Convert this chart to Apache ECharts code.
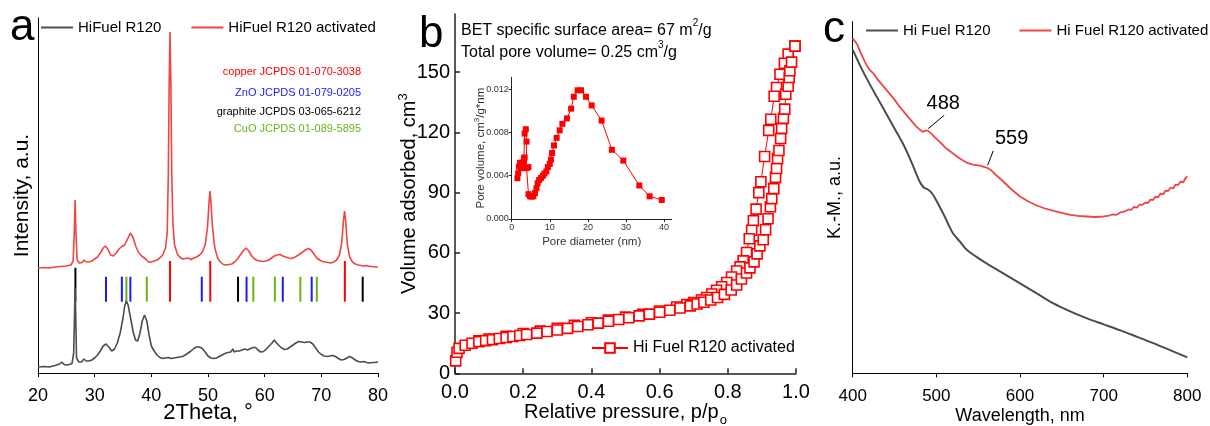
<!DOCTYPE html>
<html><head><meta charset="utf-8">
<script src="https://cdn.jsdelivr.net/npm/echarts@6/dist/echarts.min.js"></script>
<style>html,body{margin:0;padding:0;background:#fff}#c{width:1210px;height:426px}</style>
</head><body><div id="c"></div>
<script>
const FONT = 'Arial, "Liberation Sans", sans-serif';

// ---------- Panel a: XRD ----------
const xrdActivated = [[20,105],[21,105.5],[22,105],[23,106],[24,106.5],[25,107],[25.8,108],[26.2,112],[26.4,140],[26.55,173],[26.7,140],[26.9,113],[27.3,110],[27.8,110.5],[28.1,113],[28.3,115],[28.5,111],[29,111],[29.5,112],[30,114],[30.5,116],[31,120],[31.5,125],[31.9,127],[32.3,124],[32.8,118],[33.3,117],[33.8,120],[34.3,124],[34.8,126.5],[35.3,128],[35.8,134],[36.3,140],[36.8,135],[37.3,126],[37.8,120],[38.3,117],[38.6,118.5],[39,114],[39.5,111],[40,111],[40.5,112],[41,113],[41.5,115],[42,118],[42.5,125],[42.8,140],[43.0,200],[43.15,290],[43.3,341],[43.45,290],[43.6,200],[43.8,150],[44.1,128],[44.6,119],[45,116],[45.5,114],[46,114.5],[46.5,115],[47,113.5],[47.5,115],[48,116],[48.5,118],[49,121],[49.5,128],[49.9,145],[50.2,172],[50.35,182],[50.5,172],[50.8,145],[51.2,125],[51.7,115],[52.2,111],[52.7,108.5],[53.2,108],[53.7,108.5],[54.2,109],[54.7,111],[55.2,114],[55.7,118],[56.2,122],[56.7,125],[57.2,122],[57.7,117],[58.2,114],[58.7,112.5],[59.2,112],[59.7,111.5],[60.2,112],[60.7,113],[61.2,115],[61.7,117],[62.2,118],[62.7,118.5],[63.2,117],[63.7,116],[64.2,115],[64.7,114.5],[65.2,115.5],[65.7,117],[66.2,119],[66.7,121],[67.2,123],[67.7,124.5],[68.2,123],[68.7,119],[69.2,115],[69.7,113],[70.2,111.5],[70.7,111],[71.2,110.5],[71.7,110],[72.2,111],[72.7,113],[73.2,118],[73.6,130],[73.9,152],[74.1,162],[74.3,152],[74.6,128],[75,116],[75.5,111],[76,109],[76.5,108],[77,107.5],[77.5,107],[78,107.5],[78.5,106.5],[79,106.5],[79.5,106],[80,106]];
const xrdRaw = [[20,6],[21,6.5],[22,6],[23,7.5],[23.8,9],[24.2,11],[24.6,8.5],[25,8],[25.5,8.5],[26,9.5],[26.3,20],[26.45,60],[26.55,85],[26.65,60],[26.8,15],[27.2,11],[27.7,11],[28.1,14],[28.3,16],[28.5,12],[29,12],[29.5,13],[30,15],[30.5,18],[31,22],[31.5,27],[32,29],[32.5,26],[33,22],[33.5,24],[34,30],[34.5,40],[35,55],[35.3,67],[35.6,72],[35.9,68],[36.3,56],[36.8,41],[37.2,33],[37.6,32],[38,40],[38.4,52],[38.8,58],[39.2,52],[39.6,38],[40,27],[40.5,22],[41,18],[41.5,15.5],[42,14.5],[42.5,15],[43,15.5],[43.5,14.5],[44,15],[44.5,15.5],[45,16],[45.5,16.5],[46,18],[46.5,20],[47,22],[47.5,24.5],[48,26],[48.5,26],[49,24.5],[49.5,21],[50,17],[50.5,15],[51,14.5],[51.5,15],[52,16.5],[52.5,18],[53,19.5],[53.5,20.5],[54,21],[54.4,24],[54.6,21],[55,22],[55.5,22],[56,23],[56.5,24],[57,23],[57.5,24.5],[58,25.5],[58.4,25.5],[58.8,23],[59.3,21],[59.8,21.5],[60.3,24],[60.8,27],[61.3,30],[61.7,33],[62.1,30],[62.6,27],[63,25],[63.5,23.5],[64,24],[64.5,26],[65,28],[65.5,30],[66,31.5],[66.5,31],[67,30.5],[67.5,31],[68,31],[68.5,29],[69,25],[69.5,21],[70,18.5],[70.5,17],[71,16.5],[71.5,17],[72,17.5],[72.5,16.5],[73,14.5],[73.5,13],[74,13.5],[74.5,15],[75,16.5],[75.5,15],[76,13],[76.5,11.5],[77,11],[77.5,11.5],[78,10.5],[78.5,10],[79,10.5],[79.5,10.5],[80,11]];
const refCopper = [43.3, 50.4, 74.15];
const refZnO = [32.0, 34.8, 36.3, 48.9, 56.8, 63.2, 68.3];
const refGraphite = [26.6, 55.3, 77.3];
const refCuO = [35.6, 39.2, 58.0, 61.8, 66.3, 69.2];
const refLabels = ['copper JCPDS 01-070-3038','ZnO JCPDS 01-079-0205','graphite JCPDS 03-065-6212','CuO JCPDS 01-089-5895'];

// ---------- Panel b: N2 isotherm ----------
const isoAdsorption = [[0.002,6.2],[0.006,10.5],[0.012,12.4],[0.03,14],[0.05,15],[0.07,15.8],[0.09,16.3],[0.11,16.8],[0.13,17.3],[0.15,17.8],[0.17,18.3],[0.19,18.8],[0.21,19.3],[0.24,20],[0.27,20.8],[0.30,21.6],[0.33,22.4],[0.36,23.3],[0.39,24.2],[0.42,25],[0.45,25.9],[0.48,26.8],[0.51,27.7],[0.54,28.6],[0.57,29.5],[0.60,30.4],[0.63,31.4],[0.66,32.5],[0.69,33.6],[0.71,34.5],[0.73,35.4],[0.75,36.5],[0.77,37.8],[0.79,39.3],[0.81,41.5],[0.826,44],[0.84,47],[0.855,50],[0.865,52.5],[0.877,55.5],[0.886,59.5],[0.894,63.5],[0.904,66.5],[0.911,71.5],[0.918,77],[0.925,83],[0.929,87],[0.935,92],[0.94,97.6],[0.943,102],[0.946,107],[0.95,111],[0.955,117],[0.958,122],[0.963,127],[0.967,131.6],[0.97,139],[0.977,143],[0.98,147.4],[0.982,150.7],[0.987,155],[0.997,163]];
const isoDesorption = [[0.997,163],[0.977,159],[0.966,154.5],[0.953,149],[0.943,142.4],[0.936,138],[0.926,126.6],[0.92,121],[0.908,108],[0.897,95.4],[0.891,90],[0.883,81.8],[0.875,76],[0.87,71.3],[0.863,67],[0.855,60.2],[0.845,56],[0.836,53],[0.826,51],[0.811,48],[0.797,45.2],[0.782,43.1],[0.767,41.4],[0.753,39.5],[0.738,37.8],[0.723,36.5],[0.70,35.2],[0.68,34.3],[0.65,33],[0.60,31],[0.55,29.4],[0.50,28],[0.45,26.5],[0.40,25.2],[0.35,23.9],[0.30,22.4],[0.25,21],[0.20,19.8],[0.15,18.4],[0.10,17.1],[0.07,16.2]];
const poreDist = [[1.5,0.00377],[1.7,0.00423],[1.9,0.00484],[2.2,0.0052],[2.5,0.0047],[3.0,0.0052],[3.2,0.0056],[3.4,0.0057],[3.4,0.0079],[3.7,0.0083],[3.9,0.00716],[3.9,0.0047],[4.4,0.0048],[4.4,0.0023],[4.8,0.0021],[5.2,0.00207],[5.7,0.0021],[6.1,0.0024],[6.5,0.00284],[6.8,0.0033],[7.2,0.0036],[7.7,0.0038],[8.2,0.004],[8.6,0.0042],[9.1,0.0044],[9.5,0.0048],[10.0,0.0051],[10.3,0.0055],[10.6,0.0061],[11.1,0.0068],[11.8,0.0075],[12.6,0.0082],[13.3,0.0088],[14.5,0.0093],[15.6,0.0102],[16.3,0.0113],[17.3,0.0119],[18.2,0.0119],[19.5,0.0113],[21.0,0.0105],[23.6,0.0091],[26.3,0.0064],[29.3,0.0054],[33.5,0.0031],[36.2,0.0021],[39.4,0.00176]];

// ---------- Panel c: Kubelka-Munk ----------
const kmActivated = [[400,335],[405,330],[410,320],[415,311],[420,304],[425,300],[430,294],[435,289],[440,284],[445,279],[450,274],[455,268],[460,263],[465,258],[470,253],[475,248],[480,244],[484,241.5],[487,243],[490,243],[494,240],[498,236.5],[505,231],[512,225],[520,220],[528,215],[536,211],[544,209],[552,208],[560,206],[566,203],[572,198],[580,192],[590,184],[600,177],[610,172],[620,168],[630,165],[640,162.5],[650,160.5],[660,158.5],[670,157.5],[680,157],[690,156.5],[700,157],[705,157.5],[710,159],[715,158.5],[720,161],[725,162],[730,164],[733,163.5],[736,166.5],[740,166],[743,169],[746,168.5],[750,171],[753,170.5],[756,174],[759,173.5],[762,177],[765,176],[768,180],[771,179],[774,183],[777,182.5],[780,186],[783,185],[786,189],[789,188.5],[792,192],[795,191],[798,195.5],[800,197]];
const kmRaw = [[400,324],[410,306],[420,290],[430,275],[440,260],[450,245],[460,230],[470,212],[480,192],[485,186],[490,184],[495,180],[500,173],[505,165],[510,157],[515,148],[520,140],[528,132],[536,124],[548,116.5],[560,110],[570,105],[580,100],[590,95],[600,90],[620,80],[640,70],[660,62],[680,55],[700,49],[720,43],[740,36.5],[760,30],[780,23],[800,16]];
const kmBands = [488, 559];

const RED = '#ff0000', XRED = '#ef4545', GREY = '#4d4d4d';
const txt = (size, color) => ({fontFamily: FONT, fontSize: size, color: color || '#000'});

function stickSeries(name, refs, color, y0, y1) {
  return {
    name, type: 'custom', xAxisIndex: 0, yAxisIndex: 0, silent: true,
    data: refs.map(v => [v, y0]),
    renderItem: (params, api) => {
      const x = api.value(0);
      const top = (name === 'graphite' && params.dataIndex === 0) ? y1 + 9 : y1;
      const p0 = api.coord([x, y0]), p1 = api.coord([x, top]);
      return {type: 'line', shape: {x1: p0[0], y1: p0[1], x2: p1[0], y2: p1[1]}, style: {stroke: color, lineWidth: 2}};
    }
  };
}

const chart = echarts.init(document.getElementById('c'), null, {renderer: 'canvas'});
const option = {
  animation: false,
  backgroundColor: '#fff',
  textStyle: {fontFamily: FONT},
  grid: [
    {left: 38, top: 18, width: 340, height: 355, outerBoundsMode: 'none'},
    {left: 455, top: 14, width: 341, height: 359.3, outerBoundsMode: 'none'},
    {left: 511.7, top: 77.3, width: 160, height: 141.7, outerBoundsMode: 'none'},
    {left: 852.7, top: 21.7, width: 334.6, height: 351.6, outerBoundsMode: 'none'}
  ],
  xAxis: [
    {gridIndex: 0, type: 'value', min: 20, max: 80, interval: 10,
     axisLine: {lineStyle: {color: '#000', width: 1}}, axisTick: {length: 4, lineStyle: {color: '#000'}},
     axisLabel: Object.assign({margin: 14}, txt(18)), splitLine: {show: false},
     name: '2Theta, °', nameLocation: 'middle', nameGap: 29, nameMoveOverlap: false, nameTextStyle: txt(22)},
    {gridIndex: 1, type: 'value', min: 0, max: 1, interval: 0.2,
     axisLine: {lineStyle: {color: '#222', width: 1.5}}, axisTick: {inside: true, length: 5, lineStyle: {color: '#222', width: 1.5}},
     axisLabel: Object.assign({margin: 9, formatter: v => v.toFixed(1)}, txt(20)), splitLine: {show: false},
     name: '{n|Relative pressure, p/p}{s|o}', nameLocation: 'middle', nameGap: 29, nameMoveOverlap: false,
     nameTextStyle: {rich: {n: Object.assign({lineHeight: 22, verticalAlign: 'top'}, txt(20)), s: Object.assign({lineHeight: 13, verticalAlign: 'bottom', padding: [0,0,-3,1]}, txt(13))}}},
    {gridIndex: 2, type: 'value', min: 0, max: 42,
     axisLine: {lineStyle: {color: '#222', width: 1}}, axisTick: {length: 3, customValues: [0,10,20,30,40], lineStyle: {color: '#222'}},
     axisLabel: Object.assign({margin: 4, customValues: [0,10,20,30,40]}, txt(9, '#333')), splitLine: {show: false},
     name: 'Pore diameter (nm)', nameLocation: 'middle', nameGap: 16.5, nameMoveOverlap: false, nameTextStyle: txt(11.5, '#333')},
    {gridIndex: 3, type: 'value', min: 400, max: 800, interval: 100,
     axisLine: {lineStyle: {color: '#000', width: 1}}, axisTick: {length: 4, lineStyle: {color: '#000'}},
     axisLabel: Object.assign({margin: 15}, txt(17)), splitLine: {show: false},
     name: 'Wavelength, nm', nameLocation: 'middle', nameGap: 34, nameMoveOverlap: false, nameTextStyle: txt(18)}
  ],
  yAxis: [
    {gridIndex: 0, type: 'value', min: 0, max: 355,
     axisLine: {show: true, lineStyle: {color: '#000', width: 1}}, axisTick: {show: false}, axisLabel: {show: false}, splitLine: {show: false},
     name: 'Intensity, a.u.', nameLocation: 'middle', nameGap: 5, nameMoveOverlap: false, nameTextStyle: txt(21)},
    {gridIndex: 1, type: 'value', min: 0, max: 179,
     axisLine: {show: true, lineStyle: {color: '#222', width: 1.5}},
     axisTick: {show: true, inside: true, length: 5, customValues: [0,30,60,90,120,150], lineStyle: {color: '#222', width: 1.5}},
     axisLabel: Object.assign({margin: 5, customValues: [0,30,60,90,120,150]}, txt(20)), splitLine: {show: false},
     name: '{n|Volume adsorbed, cm}{s|3}', nameLocation: 'middle', nameGap: 36, nameMoveOverlap: false,
     nameTextStyle: {rich: {n: Object.assign({lineHeight: 22, verticalAlign: 'bottom'}, txt(20)), s: Object.assign({lineHeight: 13, verticalAlign: 'top'}, txt(13))}}},
    {gridIndex: 2, type: 'value', min: 0, max: 0.0131,
     axisLine: {show: true, lineStyle: {color: '#222', width: 1}},
     axisTick: {show: true, length: 3, customValues: [0,0.004,0.008,0.012], lineStyle: {color: '#222'}},
     axisLabel: Object.assign({margin: 3, customValues: [0,0.004,0.008,0.012], formatter: v => v.toFixed(3)}, txt(9, '#333')), splitLine: {show: false},
     name: '{n|Pore volume, cm}{s|3}{n|/g*nm}', nameLocation: 'middle', nameGap: 25, nameMoveOverlap: false,
     nameTextStyle: {rich: {n: Object.assign({lineHeight: 14, verticalAlign: 'bottom'}, txt(11.5, '#333')), s: Object.assign({lineHeight: 8, verticalAlign: 'top'}, txt(8, '#333'))}}},
    {gridIndex: 3, type: 'value', min: 0, max: 352,
     axisLine: {show: true, lineStyle: {color: '#000', width: 1}}, axisTick: {show: false}, axisLabel: {show: false}, splitLine: {show: false},
     name: 'K.-M., a.u.', nameLocation: 'middle', nameGap: 9, nameMoveOverlap: false, nameTextStyle: txt(18)}
  ],
  legend: [
    {data: ['HiFuel R120', 'HiFuel R120 activated'], icon: 'rect', left: 41, top: 20, width: 400, padding: 0, itemWidth: 32, itemHeight: 2, itemGap: 30, textStyle: txt(15), selectedMode: false},
    {data: ['BET adsorption'], formatter: () => 'Hi Fuel R120 activated', left: 591, top: 340, padding: 0, itemWidth: 36, itemHeight: 12, textStyle: txt(16), selectedMode: false},
    {data: ['Hi Fuel R120', 'Hi Fuel R120 activated'], icon: 'rect', left: 866, top: 23, width: 400, padding: 0, itemWidth: 32, itemHeight: 2, itemGap: 29, textStyle: txt(15), selectedMode: false}
  ],
  graphic: [
    {type: 'text', x: 10, y: 43.3 - 0.35 * 44, style: {text: 'a', font: '44px ' + FONT, fill: '#000', verticalAlign: 'middle'}},
    {type: 'text', x: 419, y: 50 - 0.35 * 44, style: {text: 'b', font: '44px ' + FONT, fill: '#000', verticalAlign: 'middle'}},
    {type: 'text', x: 823, y: 45 - 0.35 * 44, style: {text: 'c', font: '44px ' + FONT, fill: '#000', verticalAlign: 'middle'}},
    {type: 'text', x: 361, y: 72.3, style: {text: refLabels[0], font: '11px ' + FONT, fill: RED, align: 'right', verticalAlign: 'middle'}},
    {type: 'text', x: 361, y: 93.3, style: {text: refLabels[1], font: '11px ' + FONT, fill: '#1a1aff', align: 'right', verticalAlign: 'middle'}},
    {type: 'text', x: 361, y: 112.3, style: {text: refLabels[2], font: '11px ' + FONT, fill: '#000', align: 'right', verticalAlign: 'middle'}},
    {type: 'text', x: 361, y: 128.8, style: {text: refLabels[3], font: '11px ' + FONT, fill: '#6cb31a', align: 'right', verticalAlign: 'middle'}},
    {type: 'text', x: 461, y: 28.3, style: {text: '{n|BET specific surface area= 67 m}{s|2}{n|/g}', verticalAlign: 'middle',
      rich: {n: {fontFamily: FONT, fontSize: 16, lineHeight: 20, fill: '#000', verticalAlign: 'bottom'}, s: {fontFamily: FONT, fontSize: 10, lineHeight: 11, fill: '#000', verticalAlign: 'top'}}}},
    {type: 'text', x: 461, y: 50.5, style: {text: '{n|Total pore volume= 0.25 cm}{s|3}{n|/g}', verticalAlign: 'middle',
      rich: {n: {fontFamily: FONT, fontSize: 16, lineHeight: 20, fill: '#000', verticalAlign: 'bottom'}, s: {fontFamily: FONT, fontSize: 10, lineHeight: 11, fill: '#000', verticalAlign: 'top'}}}}
  ],
  series: [
    {name: 'HiFuel R120', type: 'line', xAxisIndex: 0, yAxisIndex: 0, data: xrdRaw, symbol: 'none', color: GREY, lineStyle: {color: GREY, width: 1.6}},
    {name: 'HiFuel R120 activated', type: 'line', xAxisIndex: 0, yAxisIndex: 0, data: xrdActivated, symbol: 'none', color: XRED, lineStyle: {color: XRED, width: 1.6}},
    stickSeries('graphite', refGraphite, '#000', 71.3, 96.3),
    stickSeries('ZnO', refZnO, '#1a1aff', 71.3, 96.3),
    stickSeries('CuO', refCuO, '#6cb31a', 71.3, 96.3),
    stickSeries('copper', refCopper, RED, 71.3, 112),
    {name: 'BET desorption', type: 'line', xAxisIndex: 1, yAxisIndex: 1, data: isoDesorption, symbol: 'rect', symbolSize: 10, showAllSymbol: true,
     itemStyle: {color: '#fff', borderColor: RED, borderWidth: 1.6}, lineStyle: {color: RED, width: 1}},
    {name: 'BET adsorption', type: 'line', xAxisIndex: 1, yAxisIndex: 1, data: isoAdsorption, symbol: 'rect', symbolSize: 10, showAllSymbol: true,
     itemStyle: {color: '#fff', borderColor: RED, borderWidth: 1.6}, lineStyle: {color: RED, width: 1}},
    {name: 'PSD', type: 'line', xAxisIndex: 2, yAxisIndex: 2, data: poreDist, symbol: 'rect', symbolSize: 6, showAllSymbol: true,
     itemStyle: {color: RED}, lineStyle: {color: RED, width: 1}},
    {name: 'Hi Fuel R120', type: 'line', xAxisIndex: 3, yAxisIndex: 3, data: kmRaw, symbol: 'none', smooth: 0.3, color: GREY, lineStyle: {color: GREY, width: 2}},
    {name: 'Hi Fuel R120 activated', type: 'line', xAxisIndex: 3, yAxisIndex: 3, data: kmActivated, symbol: 'none', color: XRED, lineStyle: {color: XRED, width: 1.8},
     markLine: {silent: true, symbol: ['none', 'none'], lineStyle: {color: '#000', width: 1, type: 'solid'}, label: {show: false},
       data: [[{coord: [490.3, 245]}, {coord: [509.4, 258.3]}], [{coord: [561.3, 208.3]}, {coord: [568, 222.6]}]]},
     markPoint: {silent: true, symbol: 'circle', symbolSize: 0,
       label: {show: true, position: 'inside', formatter: p => String(p.value), fontFamily: FONT, fontSize: 20, color: '#000'},
       data: [{coord: [508.3, 270.3], value: kmBands[0]}, {coord: [590, 235], value: kmBands[1]}]}}
  ]
};
chart.setOption(option);
</script></body></html>
